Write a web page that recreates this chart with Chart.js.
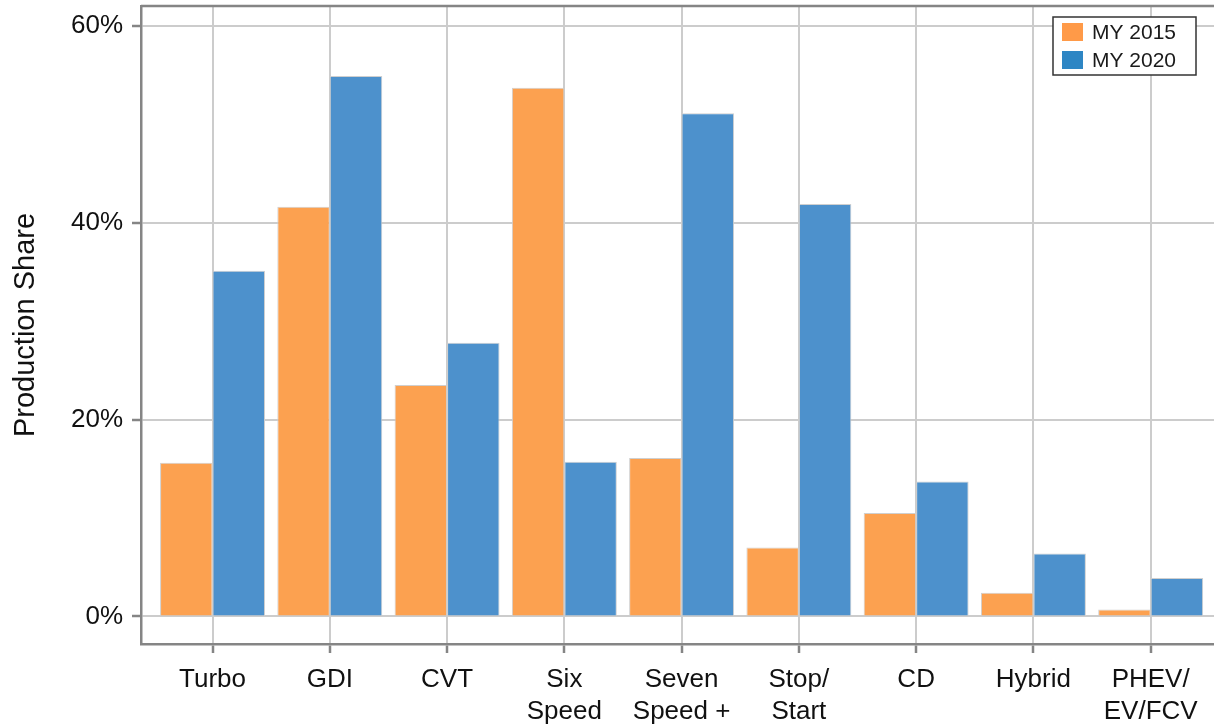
<!DOCTYPE html>
<html>
<head>
<meta charset="utf-8">
<title>Production Share</title>
<script src="https://cdn.jsdelivr.net/npm/chart.js@4.4.1/dist/chart.umd.min.js"></script>
<style>
  html, body { margin: 0; padding: 0; background: #fff; overflow: hidden; }
  #wrap { width: 1214px; height: 727px; }
</style>
</head>
<body>
<div id="wrap"><canvas id="chart" width="1214" height="727"></canvas></div>
<script>
"use strict";

// categories (multi-line labels as arrays)
const categories = [
	"Turbo", "GDI", "CVT", ["Six", "Speed"], ["Seven", "Speed +"],
	["Stop/", "Start"], "CD", "Hybrid", ["PHEV/", "EV/FCV"]
];
const seriesNames = ["MY 2015", "MY 2020"];
const my2015 = [15.6, 41.6, 23.5, 53.7, 16.1, 7.0, 10.5, 2.4, 0.7];
const my2020 = [35.1, 54.9, 27.8, 15.7, 51.1, 41.9, 13.7, 6.4, 3.9];
const yTicks = [0, 20, 40, 60];

const barColors = ["#fca150", "#4d91cc"];
const legendColors = ["#ff9a48", "#2e86c4"];
const FONT = "'Liberation Sans', Arial, sans-serif";

// top frame line + boxed legend inside plot area
const framePlugin = {
	id: "frame",
	afterDraw(chart) {
		const ctx = chart.ctx;
		const a = chart.chartArea;
		ctx.save();
		ctx.strokeStyle = "#858585";
		ctx.lineWidth = 2.5;
		ctx.beginPath();
		ctx.moveTo(a.left, a.top);
		ctx.lineTo(a.right, a.top);
		ctx.stroke();

		// legend
		const bw = 143, bh = 58;
		const bx = a.right - 18 - bw;
		const by = a.top + 11;
		ctx.fillStyle = "#fff";
		ctx.fillRect(bx, by, bw, bh);
		ctx.strokeStyle = "#333";
		ctx.lineWidth = 1.5;
		ctx.strokeRect(bx, by, bw, bh);
		ctx.font = "21px " + FONT;
		ctx.textBaseline = "middle";
		chart.data.datasets.forEach(function (ds, i) {
			const cy = by + 15 + i * 28;
			ctx.fillStyle = legendColors[i];
			ctx.fillRect(bx + 9, cy - 9, 21, 18);
			ctx.fillStyle = "#1a1a1a";
			ctx.fillText(ds.label, bx + 39, cy + 1);
		});
		ctx.restore();
	}
};

const xMin = -0.61;
const xMax = 8.54;

let chart = new Chart(document.getElementById("chart"), {
	type: "bar",
	data: {
		datasets: [
			{
				label: seriesNames[0],
				data: my2015.map((v, i) => ({ x: i, y: v })),
				backgroundColor: barColors[0],
				borderColor: "#cfcfcf",
				borderWidth: 1
			},
			{
				label: seriesNames[1],
				data: my2020.map((v, i) => ({ x: i, y: v })),
				backgroundColor: barColors[1],
				borderColor: "#cfcfcf",
				borderWidth: 1
			}
		]
	},
	options: {
		responsive: false,
		animation: false,
		devicePixelRatio: 1,
		categoryPercentage: 0.895,
		barPercentage: 1,
		layout: { padding: { top: 6, left: 0, right: 0, bottom: 0 } },
		plugins: {
			legend: { display: false },
			tooltip: { enabled: false }
		},
		scales: {
			x: {
				type: "linear",
				min: xMin,
				max: xMax,
				offset: false,
				afterFit: s => {
					s.height = 83;
					s.paddingLeft = 0;
					s.paddingRight = 0;
				},
				grid: {
					offset: false,
					color: "#cccccc",
					lineWidth: 2,
					tickColor: "#858585",
					tickWidth: 2.5,
					tickLength: 9
				},
				border: { display: true, color: "#858585", width: 2.5 },
				ticks: {
					stepSize: 1,
					includeBounds: false,
					autoSkip: false,
					maxRotation: 0,
					minRotation: 0,
					padding: 10,
					color: "#111",
					font: { family: FONT, size: 26, lineHeight: 1.26 },
					callback: v => categories[v]
				}
			},
			y: {
				min: -2.8,
				max: 62,
				afterFit: s => {
					s.width = 141;
					s.paddingTop = 0;
					s.paddingBottom = 0;
				},
				afterBuildTicks: s => { s.ticks = yTicks.map(v => ({ value: v })); },
				grid: {
					color: "#cccccc",
					lineWidth: 2,
					tickColor: "#858585",
					tickWidth: 2.5,
					tickLength: 9
				},
				border: { display: true, color: "#858585", width: 2.5 },
				ticks: {
					stepSize: 20,
					includeBounds: false,
					padding: 9,
					color: "#111",
					font: { family: FONT, size: 26 },
					callback: v => v + "%"
				},
				title: {
					display: true,
					text: "Production Share",
					color: "#111",
					font: { family: FONT, size: 29 },
					padding: { top: 9, bottom: 0 }
				}
			}
		}
	},
	plugins: [framePlugin]
});
</script>
</body>
</html>
